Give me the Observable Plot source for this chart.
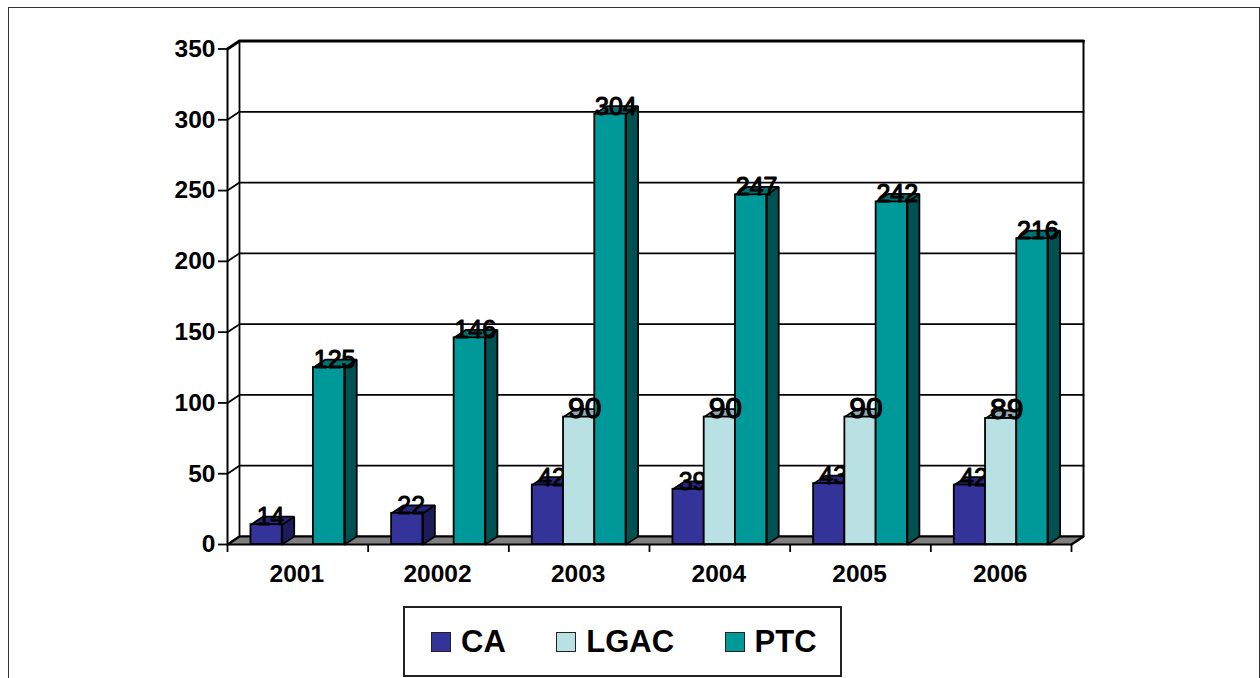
<!DOCTYPE html>
<html><head><meta charset="utf-8">
<script src="https://cdn.jsdelivr.net/npm/d3@7"></script>
<script src="https://cdn.jsdelivr.net/npm/@observablehq/plot@0.6"></script>
<style>
html,body{margin:0;padding:0;width:1260px;height:678px;overflow:hidden;background:#fff;font-family:"Liberation Sans",Arial,sans-serif}
#frame{position:absolute;left:8px;top:6.5px;width:1251.5px;height:720px;border:1.5px solid #333;box-sizing:border-box}
#chart{position:absolute;left:0;top:0}
#chart svg{background:transparent;overflow:visible}
#legend{position:absolute;left:403px;top:605.5px;width:439px;height:71px;box-sizing:border-box;border:2px solid #222;background:#fff;display:flex;align-items:center;padding-left:26px;padding-top:1px;font-weight:bold;font-size:31px;color:#000;gap:50.5px}
#legend .item{display:flex;align-items:center;gap:10px}
#legend .sw{width:20px;height:20px;box-sizing:border-box;border:1.5px solid #222;display:inline-block}
</style></head>
<body>
<div id="frame"></div>
<div id="chart"></div>
<div id="legend"></div>
<script>
const years = ["2001","20002","2003","2004","2005","2006"];
const ca    = [14,22,42,39,43,42];
const lgac  = [null,null,90,90,90,89];
const ptc   = [125,146,304,247,242,216];
const gridValues = [0,50,100,150,200,250,300,350];
const seriesNames = ["CA","LGAC","PTC"];
const frontColors = ["#333399","#b9e0e3","#009999"];
const sideColors  = ["#1c1c5c","#6f8a8c","#005252"];
const topColors   = ["#26267a","#8fadb0","#007070"];

// depth of the 3-D box in scale units, and bar layout within one category slot
const depthX = 0.0853, depthY = 5.65;
const gapSlot = 1/6, barW = 2/9;
const thick = 1.8;

const rows = v => years.map((year,i)=>({slot:i,value:v[i]})).filter(d=>d.value!=null);
const x1 = (d,s) => d.slot + gapSlot + s*barW;
const faces = (v,s) => rows(v).flatMap(d=>{
  const a=x1(d,s), b=a+barW, h=d.value, k=`${s}-${d.slot}`;
  const side=[[b,0],[b+depthX,depthY],[b+depthX,h+depthY],[b,h],[b,0]];
  const top=[[a,h],[a+depthX,h+depthY],[b+depthX,h+depthY],[b,h],[a,h]];
  return [...side.map(p=>({k:k+"s",x:p[0],y:p[1],face:"side"})),...top.map(p=>({k:k+"t",x:p[0],y:p[1],face:"top"}))];
});
const barMarks = (v,s) => [
  Plot.line(faces(v,s).filter(d=>d.face==="side"),{x:"x",y:"y",z:"k",fill:sideColors[s],stroke:"#000",strokeWidth:thick,strokeLinejoin:"miter"}),
  Plot.line(faces(v,s).filter(d=>d.face==="top"),{x:"x",y:"y",z:"k",fill:topColors[s],stroke:"#000",strokeWidth:thick,strokeLinejoin:"miter"}),
  Plot.rect(rows(v),{x1:d=>x1(d,s),x2:d=>x1(d,s)+barW,y1:0,y2:"value",fill:frontColors[s],stroke:"#000",strokeWidth:thick,inset:0})
];
const labelMark = (v,s,size,sw,dx) => Plot.text(rows(v),{
  x:d=>x1(d,s)+barW/2, y:"value", text:d=>String(d.value),
  dx, dy:0.5, lineAnchor:"bottom", fontSize:size, fill:"#000", stroke:"#000", strokeWidth:sw
});

const floor = [[0,0],[6,0],[6+depthX,depthY],[depthX,depthY],[0,0]].map(p=>({x:p[0],y:p[1]}));
const gridLines = gridValues.flatMap(v=>[
  {k:v,x:0,y:v},{k:v,x:depthX,y:v+depthY},{k:v,x:6+depthX,y:v+depthY}
]);
const centers = years.map((_,i)=>i+0.5);

const chart = Plot.plot({
  width:1260, height:600,
  marginLeft:227, marginRight:189, marginTop:48.5, marginBottom:56,
  style:{fontFamily:'"Liberation Sans",Arial,sans-serif',background:"transparent",overflow:"visible"},
  x:{domain:[0,6]},
  y:{domain:[0,350]},
  marks:[
    // walls and gridlines
    Plot.line(gridLines.filter(d=>d.k!==350),{x:"x",y:"y",z:"k",stroke:"#000",strokeWidth:1.8}),
    Plot.line(gridLines.filter(d=>d.k===350),{x:"x",y:"y",z:"k",stroke:"#000",strokeWidth:3}),
    Plot.line([{x:depthX,y:depthY},{x:depthX,y:350+depthY}],{x:"x",y:"y",stroke:"#000",strokeWidth:1.8}),
    Plot.line([{x:6+depthX,y:depthY},{x:6+depthX,y:350+depthY}],{x:"x",y:"y",stroke:"#000",strokeWidth:2}),
    Plot.line(floor,{x:"x",y:"y",fill:"#808080",stroke:"#000",strokeWidth:2.2,strokeLinejoin:"miter"}),
    Plot.ruleX([0],{y1:0,y2:350,stroke:"#000",strokeWidth:2}),
    // axes
    Plot.axisY({ticks:gridValues,tickSize:9,tickPadding:3,fontSize:24.5,fontWeight:"bold",strokeWidth:1.8,tickFormat:d=>String(d),label:null}),
    Plot.axisX({ticks:d3.range(0,7),tickSize:8,strokeWidth:1.8,tickFormat:()=>"",label:null}),
    Plot.axisX({ticks:centers,tickSize:0,tickPadding:20,fontSize:24.5,fontWeight:"bold",dx:-1,tickFormat:v=>years[v-0.5],label:null}),
    // bars in drawing order
    ...barMarks(ca,0),
    labelMark(ca,0,25,0.9,4),
    ...barMarks(lgac,1),
    ...barMarks(ptc,2),
    labelMark(lgac,1,30,1.2,5.5),
    labelMark(ptc,2,25,1.1,5.5)
  ]
});
document.getElementById("chart").appendChild(chart);

const legend = document.getElementById("legend");
seriesNames.forEach((name,i)=>{
  const item=document.createElement("div"); item.className="item";
  const sw=document.createElement("span"); sw.className="sw"; sw.style.background=frontColors[i];
  const t=document.createElement("span"); t.textContent=name;
  item.append(sw,t); legend.append(item);
});
</script>
</body></html>
